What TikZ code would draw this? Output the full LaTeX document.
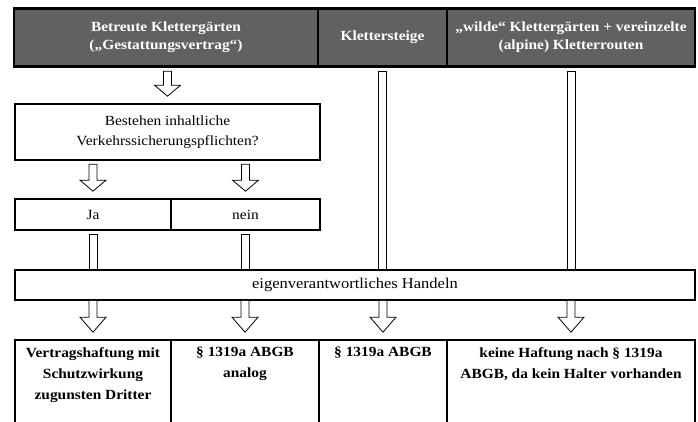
\documentclass[tikz,border=0pt]{standalone}
\usepackage{fontspec}
\setmainfont{Liberation Serif}[FakeStretch=1.1]
\usetikzlibrary{calc}
\newdimen\sdim
\newdimen\adim
\newdimen\ldim
\newdimen\mdim
\newdimen\gdim
\newdimen\tdim
\sdim=4pt
\adim=13pt
\ldim=11pt
\mdim=15pt
\gdim=3.5pt
\tdim=7pt
\tikzstyle{header}=[
  align=center,
  draw=black,
  fill=black!62,
  font={\fontsize{14pt}{18pt}\selectfont\bfseries},
  inner sep=0pt,
  line width=2.4pt,
  minimum height=58pt,
  rectangle,
  text=white,
]
\tikzstyle{box}=[
  align=center,
  draw=black,
  font={\fontsize{14pt}{20pt}\selectfont},
  inner sep=0pt,
  line width=1.6pt,
  rectangle,
]
\tikzstyle{result}=[
  draw=black,
  inner sep=0pt,
  line width=1.6pt,
  minimum height=92pt,
  rectangle,
]
\tikzstyle{resulttext}=[
  align=center,
  anchor=north,
  font={\fontsize{14pt}{21pt}\selectfont\bfseries},
  inner sep=0pt,
]
\tikzstyle{arrow}=[
  draw=black,
  fill=white,
  line width=.8pt,
]
\tikzset{
  x=1pt,
  y=1pt,
}
% block arrow from below #1 down to just above #2
\newcommand{\blockarrow}[2]{%
  \filldraw [arrow] ($(#2 |- #1)+(-\sdim,-\gdim)$)
  -- ($(#2)+(-\sdim,\tdim+\ldim)$) -- ($(#2)+(-\adim,\tdim+\ldim)$)
  -- ($(#2)+(0pt,\tdim)$)
  -- ($(#2)+(\adim,\tdim+\ldim)$) -- ($(#2)+(\sdim,\tdim+\ldim)$)
  -- ($(#2 |- #1)+(\sdim,-\gdim)$) -- cycle;}
% block arrow leaving the border of #1, tip just above #2
\newcommand{\openarrow}[2]{%
  \filldraw [arrow] ($(#2 |- #1)+(-\sdim,0pt)$)
  -- ($(#2)+(-\sdim,\tdim+\mdim)$) -- ($(#2)+(-\adim,\tdim+\mdim)$)
  -- ($(#2)+(0pt,\tdim)$)
  -- ($(#2)+(\adim,\tdim+\mdim)$) -- ($(#2)+(\sdim,\tdim+\mdim)$)
  -- ($(#2 |- #1)+(\sdim,0pt)$);}
% open shaft from below #1 into the border of #2
\newcommand{\pipe}[2]{%
  \filldraw [arrow] ($(#2 -| #1)+(-\sdim,0pt)$)
  -- ($(#1)+(-\sdim,-\gdim)$) -- ($(#1)+(\sdim,-\gdim)$)
  -- ($(#2 -| #1)+(\sdim,0pt)$);}

\begin{document}
\begin{tikzpicture}
  \useasboundingbox (0,0) rectangle (698,-422);
  %%
  \node (hdrA) [header, minimum width=304pt] at (166,-37.5)
    {Betreute Klettergärten\\(„Gestattungsvertrag“)};
  \node (hdrB) [header, minimum width=129pt] at (382.5,-37.5) {Klettersteige};
  \node (hdrC) [header, minimum width=248pt] at (571,-37.5)
    {„wilde“ Klettergärten + vereinzelte\\(alpine) Kletterrouten};
  %%
  \node (quest) [box, minimum width=305pt, minimum height=56pt] at (167.5,-132)
    {Bestehen inhaltliche\\Verkehrssicherungspflichten?};
  \node (ja) [box, minimum width=156pt, minimum height=31pt] at (93,-214.5) {Ja};
  \node (nein) [box, minimum width=149pt, minimum height=31pt] at (245.5,-214.5) {nein};
  \node (eigen) [box, minimum width=680pt, minimum height=30pt,
    font={\fontsize{15pt}{20pt}\selectfont}] at (355,-285)
    {eigenverantwortliches Handeln};
  %%
  \node (resA) [result, minimum width=156pt] at (93,-386) {};
  \node (resB) [result, minimum width=148pt] at (245,-386) {};
  \node (resC) [result, minimum width=128pt] at (383,-386) {};
  \node (resD) [result, minimum width=248pt] at (571,-386) {};
  \node (resAtext) [resulttext] at ($(resA.north)+(0,-8pt)$)
    {Vertragshaftung mit\\Schutzwirkung\\zugunsten Dritter};
  \node (resBtext) [resulttext] at ($(resB.north)+(0,-8pt)$) {§ 1319a ABGB\\analog};
  \node (resCtext) [resulttext] at ($(resC.north)+(0,-8pt)$) {§ 1319a ABGB};
  \node (resDtext) [resulttext] at ($(resD.north)+(0,-8pt)$)
    {keine Haftung nach § 1319a\\ABGB, da kein Halter vorhanden};
  %%
  \blockarrow{hdrA.south}{quest.north}
  \blockarrow{quest.south}{ja.north}
  \blockarrow{quest.south}{nein.north}
  \pipe{ja.south}{eigen.north}
  \pipe{nein.south}{eigen.north}
  \pipe{hdrB.south}{eigen.north}
  \pipe{hdrC.south}{eigen.north}
  \openarrow{eigen.south}{resA.north}
  \openarrow{eigen.south}{resB.north}
  \openarrow{eigen.south}{resC.north}
  \openarrow{eigen.south}{resD.north}
\end{tikzpicture}
\end{document}
